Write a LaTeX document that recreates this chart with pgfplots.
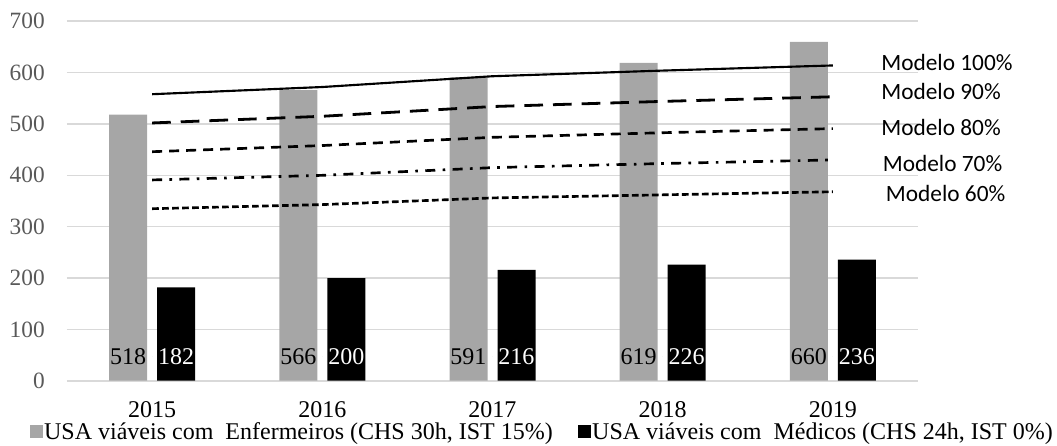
\documentclass[border=0pt]{standalone}
\usepackage{fontspec}
\setmainfont{Liberation Serif}
\newfontfamily\calibri{Carlito}
\usepackage{pgfplots}
\pgfplotsset{compat=1.18}
\usepackage{pgfplotstable}

\definecolor{bargray}{HTML}{A6A6A6}
\definecolor{gridgray}{HTML}{D9D9D9}
\definecolor{tickgray}{HTML}{595959}

% USA viáveis por ano
\pgfplotstableread{
x year enf med
0 2015 518 182
1 2016 566 200
2 2017 591 216
3 2018 619 226
4 2019 660 236
}\usa

% Modelos (100% a 60%)
\pgfplotstableread{
x m100 m90 m80 m70 m60
0 558 502 446 391 335
1 572 515 458 400 343
2 593 534 474 415 356
3 604 544 483 423 362
4 614 553 491 430 368
}\modelos

\begin{document}
\begin{tikzpicture}
\useasboundingbox (-50.25pt,-48.975pt) rectangle (742.5pt,285.525pt);
\begin{axis}[
  scale only axis,
  width=638.25pt, height=269.55pt,
  xmin=-0.5, xmax=4.5, ymin=0, ymax=700,
  clip=false,
  xtick={0,1,2,3,4},
  xticklabels={2015,2016,2017,2018,2019},
  ytick={0,100,...,700},
  major tick length=0pt,
  tick style={draw=none},
  axis line style={draw=none},
  ymajorgrids,
  grid style={line width=1.2pt, color=gridgray},
  /pgf/number format/assume math mode=true,
  yticklabel style={anchor=east, inner sep=0pt, xshift=-16.5pt,
    text=tickgray, font=\fontsize{17.5}{20}\selectfont},
  xticklabel style={anchor=north, inner sep=0pt, yshift=-15.5pt,
    text=black, font=\fontsize{18}{20}\selectfont},
  legend style={at={(0.558,-0.143)}, anchor=center, draw=none, fill=none,
    inner sep=0pt, nodes={inner sep=0.8pt},
    font=\fontsize{18}{21}\selectfont, legend columns=2,
    /tikz/every even column/.append style={column sep=18pt}},
  legend image code/.code={\fill[#1] (0pt,-4.6pt) rectangle (10pt,5.4pt);},
]
% barras
\addplot[ybar, bar width=28.5pt, bar shift=-18pt, fill=bargray, draw=none]
  table[x=x, y=enf]{\usa};
\addlegendentry{USA viáveis com\ \ Enfermeiros (CHS 30h, IST 15\%)}
\addplot[ybar, bar width=28.5pt, bar shift=18pt, fill=black, draw=none]
  table[x=x, y=med]{\usa};
\addlegendentry{USA viáveis com\ \ Médicos (CHS 24h, IST 0\%)}

% linhas dos modelos
\addplot[forget plot, black, line width=1.6pt, mark=none] table[x=x, y=m100]{\modelos};
\addplot[forget plot, black, line width=2.1pt, mark=none, dash pattern=on 14pt off 7.5pt] table[x=x, y=m90]{\modelos};
\addplot[forget plot, black, line width=2pt, mark=none, dash pattern=on 7.5pt off 5.25pt] table[x=x, y=m80]{\modelos};
\addplot[forget plot, black, line width=2pt, mark=none, dash pattern=on 7.5pt off 5.5pt on 2pt off 5.5pt] table[x=x, y=m70]{\modelos};
\addplot[forget plot, black, line width=2pt, mark=none, dash pattern=on 5pt off 2.5pt] table[x=x, y=m60]{\modelos};

% rótulos de valores no pé das barras
\addplot[forget plot, only marks, mark=*, mark size=0pt, mark options={draw=none, fill=none},
  nodes near coords, point meta=\thisrow{enf},
  every node near coord/.append style={anchor=center, xshift=-18pt, inner sep=0pt,
    text=black, font=\fontsize{18}{21}\selectfont}]
  table[x=x, y expr=47]{\usa};
\addplot[forget plot, only marks, mark=*, mark size=0pt, mark options={draw=none, fill=none},
  nodes near coords, point meta=\thisrow{med},
  every node near coord/.append style={anchor=center, xshift=18pt, inner sep=0pt,
    text=white, font=\fontsize{18}{21}\selectfont}]
  table[x=x, y expr=47]{\usa};

% nomes dos modelos
\begin{scope}[every node/.style={anchor=west, inner sep=0pt, text=black,
    font=\calibri\fontsize{17.5}{20}\selectfont}]
\node at (axis cs:4.283,619) {Modelo 100\%};
\node at (axis cs:4.283,563) {Modelo 90\%};
\node at (axis cs:4.283,494) {Modelo 80\%};
\node at (axis cs:4.292,423) {Modelo 70\%};
\node at (axis cs:4.31,364) {Modelo 60\%};
\end{scope}
\end{axis}
\end{tikzpicture}
\end{document}
